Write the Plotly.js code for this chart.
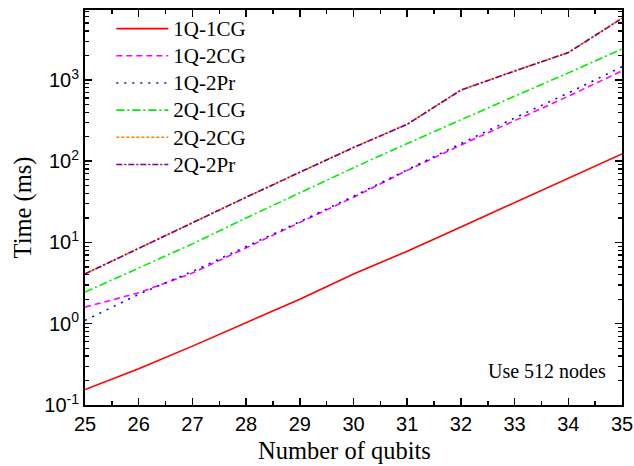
<!DOCTYPE html>
<html>
<head>
<meta charset="utf-8">
<script src="https://cdn.plot.ly/plotly-3.0.1.min.js"></script>
<style>html,body{margin:0;padding:0;background:#fff;}#chart{width:634px;height:466px;}</style>
</head>
<body>
<div id="chart"></div>
<script>
var qubits = [25, 26, 27, 28, 29, 30, 31, 32, 33, 34, 35];
var t1Q1CG = [0.155, 0.28, 0.53, 1.04, 2.0, 4.1, 7.8, 15.5, 30.7, 61, 123];
var t1Q2CG = [1.6, 2.4, 4.2, 8.6, 17.5, 36, 77, 158, 315, 630, 1290];
var t1Q2Pr = [1.1, 2.3, 4.4, 8.8, 18, 37, 79, 165, 340, 690, 1450];
var t2Q1CG = [2.45, 4.9, 9.6, 20, 41, 83, 165, 325, 630, 1220, 2400];
var t2Q2CG = [4.1, 8.5, 17.4, 36, 73, 148, 285, 750, 1290, 2170, 5750];
var t2Q2Pr = [4.1, 8.5, 17.3, 36, 73, 147, 284, 748, 1285, 2165, 5720];
var seriesNames = ["1Q-1CG", "1Q-2CG", "1Q-2Pr", "2Q-1CG", "2Q-2CG", "2Q-2Pr"];
var yTickVals = [0.1, 1, 10, 100, 1000];
var yTickText = ["10<sup>-1</sup>", "10<sup>0</sup>", "10<sup>1</sup>", "10<sup>2</sup>", "10<sup>3</sup>"];

var styles = [
  {color: "#ff0000", dash: "solid"},
  {color: "#ff00ff", dash: "6px,4px"},
  {color: "#0000ff", dash: "2px,6px"},
  {color: "#00ee00", dash: "8px,3px,2px,3px"},
  {color: "#ff8000", dash: "3px,2px"},
  {color: "#800080", dash: "6px,2px,2px,2px"}
];
var ys = [t1Q1CG, t1Q2CG, t1Q2Pr, t2Q1CG, t2Q2CG, t2Q2Pr];
var data = ys.map(function (y, i) {
  return {
    x: qubits, y: y, type: "scatter", mode: "lines",
    name: '<span style="font-size:21px">' + seriesNames[i] + '</span>',
    line: {color: styles[i].color, dash: styles[i].dash, width: 1.6}
  };
});

// minor tick positions on the log axis: 2..9 times each decade
var minorVals = [];
for (var d = -1; d <= 3; d++) {
  for (var m = 2; m <= 9; m++) { minorVals.push(m * Math.pow(10, d)); }
}

var tickFont = {family: "'Liberation Sans', Arial, sans-serif", size: 20, color: "#000"};
var serif = "'Liberation Serif', 'Times New Roman', serif";
var layout = {
  width: 634, height: 466,
  margin: {l: 85, r: 12, t: 10, b: 61},
  paper_bgcolor: "#fff", plot_bgcolor: "#fff",
  showlegend: true,
  legend: {
    x: 0.049, y: 1.0, xanchor: "left", yanchor: "top",
    bgcolor: "rgba(0,0,0,0)", borderwidth: 0,
    font: {family: serif, size: 18.6, color: "#000"},
    tracegroupgap: 0, itemwidth: 52
  },
  xaxis: {
    range: [25, 35], dtick: 1, tick0: 25,
    ticks: "inside", ticklen: 7, tickwidth: 1.5, tickcolor: "#000",
    minor: {dtick: 0.5, ticks: "inside", ticklen: 4, tickwidth: 1.5, tickcolor: "#000", showgrid: false},
    showline: true, linecolor: "#000", linewidth: 2, mirror: "ticks",
    showgrid: false, zeroline: false,
    tickfont: tickFont
  },
  yaxis: {
    type: "log", range: [-1, 3.86],
    tickmode: "array", tickvals: yTickVals, ticktext: yTickText,
    ticks: "inside", ticklen: 7, tickwidth: 1.5, tickcolor: "#000",
    minor: {tickmode: "array", tickvals: minorVals, ticks: "inside", ticklen: 4, tickwidth: 1.2, tickcolor: "#000", showgrid: false},
    showline: true, linecolor: "#000", linewidth: 2, mirror: "ticks",
    showgrid: false, zeroline: false,
    tickfont: tickFont,
    title: {text: "Time (ms)", font: {family: serif, size: 24.5, color: "#000"}, standoff: 6}
  },
  annotations: [{
    text: "Use 512 nodes", xref: "paper", yref: "paper", x: 0.973, y: 0.085,
    xanchor: "right", yanchor: "middle", showarrow: false,
    font: {family: serif, size: 20, color: "#000"}
  }, {
    text: "Number of qubits", xref: "paper", yref: "paper", x: 0.484, y: -0.114,
    xanchor: "center", yanchor: "middle", showarrow: false,
    font: {family: serif, size: 24.5, color: "#000"}
  }]
};

Plotly.newPlot("chart", data, layout, {displayModeBar: false, staticPlot: true});
</script>
</body>
</html>
